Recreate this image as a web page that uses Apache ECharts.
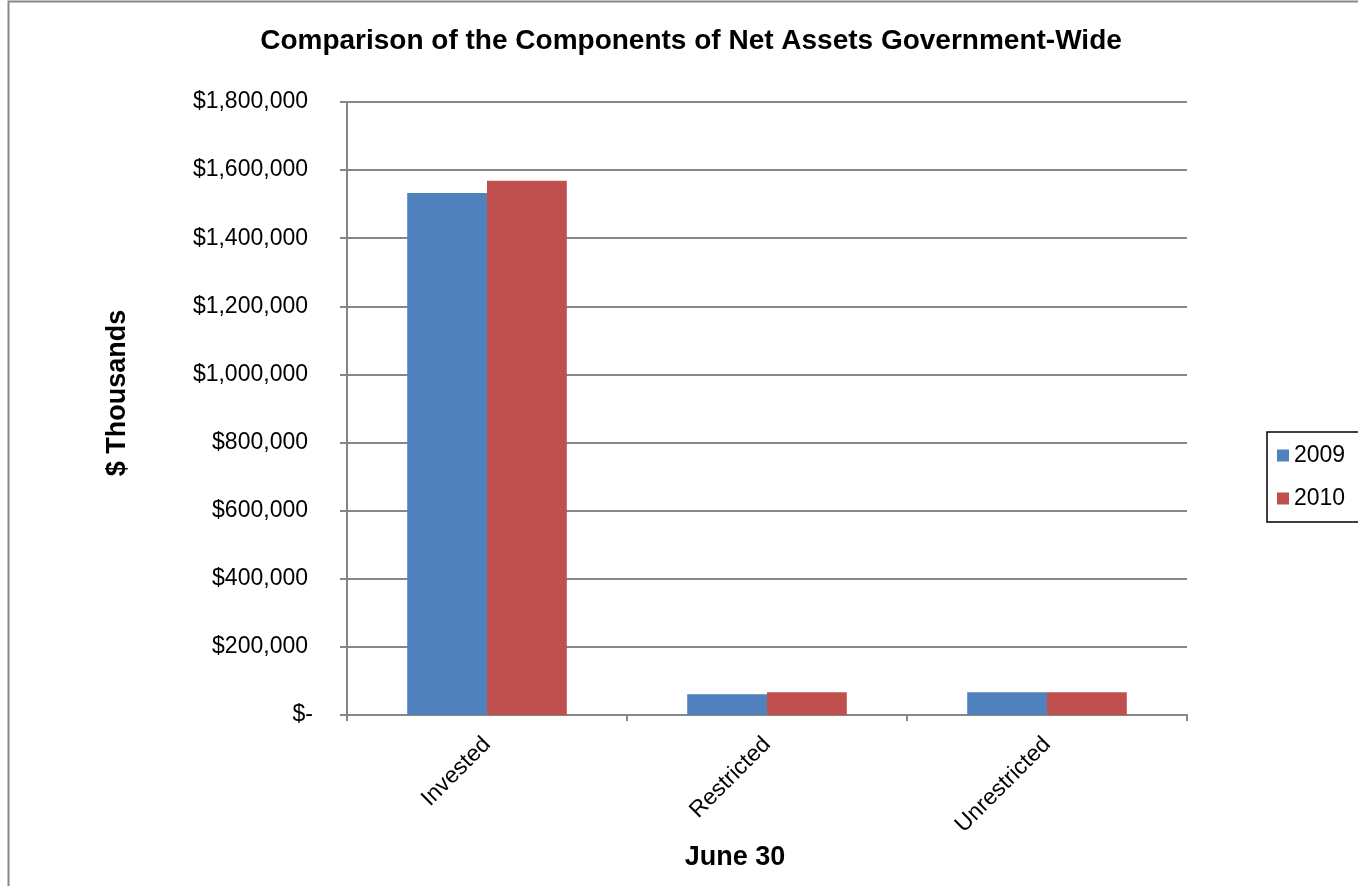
<!DOCTYPE html>
<html>
<head>
<meta charset="utf-8">
<script src="https://cdn.jsdelivr.net/npm/echarts@6/dist/echarts.min.js"></script>
<style>
  html, body { margin: 0; padding: 0; background: #fff; }
  #chart { width: 1358px; height: 886px; }
</style>
</head>
<body>
<div id="chart"></div>
<script>
// categories and values ($ thousands)
const categories = ['Invested', 'Restricted', 'Unrestricted'];
const seriesNames = ['2009', '2010'];
const values2009 = [1533000, 61000, 67000];
const values2010 = [1569000, 67000, 67000];

const chart = echarts.init(document.getElementById('chart'));
const font = 'Liberation Sans, Arial, sans-serif';

const option = {
  backgroundColor: '#fff',
  animation: false,
  textStyle: { fontFamily: font },
  color: ['#4F81BD', '#C0504D'],
  grid: { left: 347, right: 171, top: 102, bottom: 171 },
  graphic: [
    {
      type: 'rect',
      shape: { x: 8.5, y: 1.5, width: 1400, height: 1000 },
      style: { fill: 'none', stroke: '#888', lineWidth: 2 },
      silent: true
    },
    {
      type: 'text', x: 691, y: 41,
      style: { text: 'Comparison of the Components of Net Assets Government-Wide', font: 'bold 28px ' + font, fill: '#000', align: 'center', verticalAlign: 'middle' }
    },
    {
      type: 'text', x: 118, y: 393, rotation: Math.PI / 2,
      style: { text: '$ Thousands', font: 'bold 27px ' + font, fill: '#000', align: 'center', verticalAlign: 'middle' }
    },
    {
      type: 'text', x: 735, y: 858,
      style: { text: 'June 30', font: 'bold 27px ' + font, fill: '#000', align: 'center', verticalAlign: 'middle' }
    }
  ],
  legend: {
    orient: 'vertical',
    left: 1267, top: 432,
    itemWidth: 12, itemHeight: 12, itemGap: 20,
    icon: 'rect',
    borderColor: '#000', borderWidth: 1.5,
    padding: [12, 40, 12, 10],
    textStyle: { fontSize: 23, color: '#000', fontFamily: font },
    data: seriesNames
  },
  xAxis: {
    type: 'category',
    data: categories,
    axisLine: { lineStyle: { color: '#868686', width: 2 } },
    axisTick: { show: true, length: 6, lineStyle: { color: '#868686', width: 2 } },
    axisLabel: { rotate: 45, fontSize: 23, color: '#000', margin: 26, interval: 0 }
  },
  yAxis: {
    type: 'value',
    min: 0, max: 1800000, interval: 200000,
    axisLine: { show: true, lineStyle: { color: '#868686', width: 2 } },
    axisTick: { show: true, length: 7, lineStyle: { color: '#868686', width: 2 } },
    splitLine: { lineStyle: { color: '#868686', width: 2 } },
    axisLabel: {
      fontSize: 23, color: '#000', margin: 34,
      formatter: v => v === 0 ? '{z|$-}' : '{n|$' + v.toLocaleString('en-US') + '}',
      rich: {
        z: { fontSize: 23, color: '#000' },
        n: { fontSize: 23, color: '#000', padding: [0, 5, 0, 0] }
      }
    }
  },
  series: [
    { name: seriesNames[0], type: 'bar', data: values2009, barGap: '0%', barCategoryGap: '43%' },
    { name: seriesNames[1], type: 'bar', data: values2010, barGap: '0%', barCategoryGap: '43%' }
  ]
};

chart.setOption(option);
</script>
</body>
</html>
